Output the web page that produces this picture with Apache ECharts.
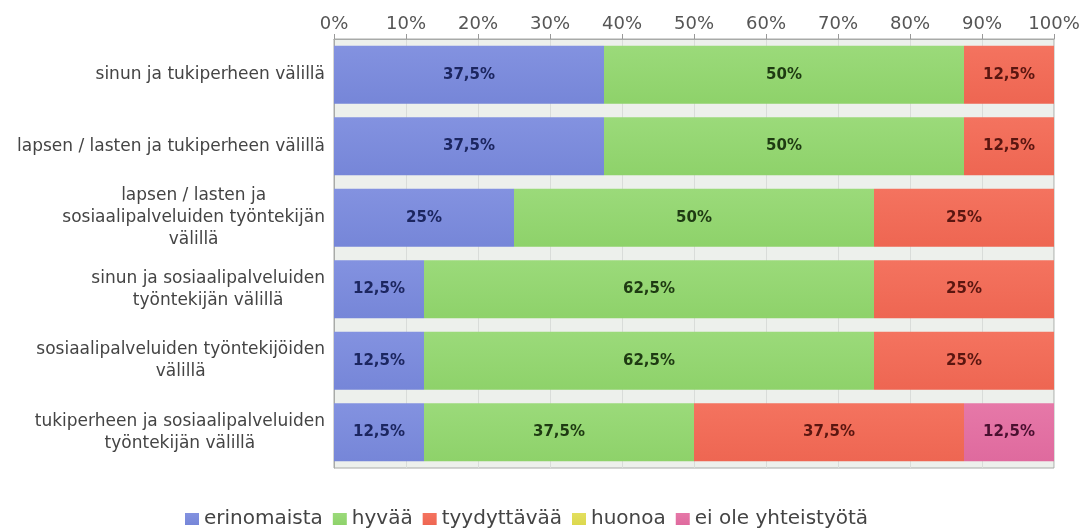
<!DOCTYPE html>
<html>
<head>
  <meta charset="UTF-8">
  <title>Yhteistyö</title>
  <style>
    html, body { margin: 0; padding: 0; background: #fff; }
    #chart { width: 1090px; height: 530px; }
  </style>
  <script src="https://cdn.jsdelivr.net/npm/echarts@6/dist/echarts.min.js"></script>
</head>
<body>
  <div id="chart"></div>
  <script>
    var categories = [
      'sinun ja tukiperheen välillä',
      'lapsen / lasten ja tukiperheen välillä',
      'lapsen / lasten ja\nsosiaalipalveluiden työntekijän\nvälillä',
      'sinun ja sosiaalipalveluiden\ntyöntekijän välillä',
      'sosiaalipalveluiden työntekijöiden\nvälillä',
      'tukiperheen ja sosiaalipalveluiden\ntyöntekijän välillä'
    ];
    var seriesNames = ['erinomaista', 'hyvää', 'tyydyttävää', 'huonoa', 'ei ole yhteistyötä'];
    var erinomaista = [37.5, 37.5, 25, 12.5, 12.5, 12.5];
    var hyvaa = [50, 50, 50, 62.5, 62.5, 37.5];
    var tyydyttavaa = [12.5, 12.5, 25, 25, 25, 37.5];
    var huonoa = [0, 0, 0, 0, 0, 0];
    var eiYhteistyota = [0, 0, 0, 0, 0, 12.5];
    var tickLabels = ['0%', '10%', '20%', '30%', '40%', '50%', '60%', '70%', '80%', '90%', '100%'];

    var seriesData = [erinomaista, hyvaa, tyydyttavaa, huonoa, eiYhteistyota];
    var colors = ['#7686d8', '#8ed26a', '#ee6652', '#dcd84e', '#df6a9e'];
    var topColors = ['#8392e0', '#9bda7a', '#f4735f', '#e3df5e', '#e678a8'];
    var labelColors = ['#1c2660', '#1e3a12', '#5a1610', '#4a4810', '#4a1030'];
    var font = 'DejaVu Sans';

    var chart = echarts.init(document.getElementById('chart'));

    var series = seriesData.map(function (vals, i) {
      return {
        name: seriesNames[i],
        type: 'bar',
        stack: 'total',
        barCategoryGap: '19%',
        data: vals,
        itemStyle: {
          color: new echarts.graphic.LinearGradient(0, 0, 0, 1, [
            { offset: 0, color: topColors[i] },
            { offset: 1, color: colors[i] }
          ])
        },
        label: {
          show: true,
          position: 'inside',
          color: labelColors[i],
          fontFamily: font,
          fontWeight: 'bold',
          fontSize: 15,
          formatter: function (p) {
            return p.value > 0 ? String(p.value).replace('.', ',') + '%' : '';
          }
        }
      };
    });

    chart.setOption({
      animation: false,
      color: colors,
      grid: {
        left: 334, right: 36, top: 39, bottom: 62,
        show: true,
        backgroundColor: '#edf0ec',
        borderColor: '#a8aaa8',
        borderWidth: 1
      },
      legend: {
        top: 504,
        left: 180,
        itemWidth: 14,
        itemHeight: 12,
        itemGap: 10,
        icon: 'rect',
        textStyle: { fontFamily: font, fontSize: 20, color: '#444' },
        data: seriesNames
      },
      xAxis: {
        type: 'value',
        position: 'top',
        min: 0,
        max: 100,
        interval: 10,
        axisLine: { show: true, lineStyle: { color: '#a8aaa8' } },
        axisTick: { show: true, length: 5, lineStyle: { color: '#999' } },
        splitLine: { show: true, lineStyle: { color: '#d9dcd9' } },
        axisLabel: {
          fontFamily: font,
          fontSize: 18,
          color: '#555',
          margin: 6,
          formatter: function (v) { return tickLabels[Math.round(v / 10)]; }
        }
      },
      yAxis: {
        type: 'category',
        inverse: true,
        data: categories,
        axisLine: { show: true, lineStyle: { color: '#a8aaa8' } },
        axisTick: { show: false },
        axisLabel: {
          margin: 9,
          formatter: function (v) {
            return v.split('\n').map(function (l) { return '{c|' + l + '}'; }).join('\n');
          },
          rich: {
            c: {
              align: 'center',
              fontFamily: font,
              fontSize: 17,
              color: '#444',
              lineHeight: 22
            }
          }
        }
      },
      series: series
    });
  </script>
</body>
</html>
